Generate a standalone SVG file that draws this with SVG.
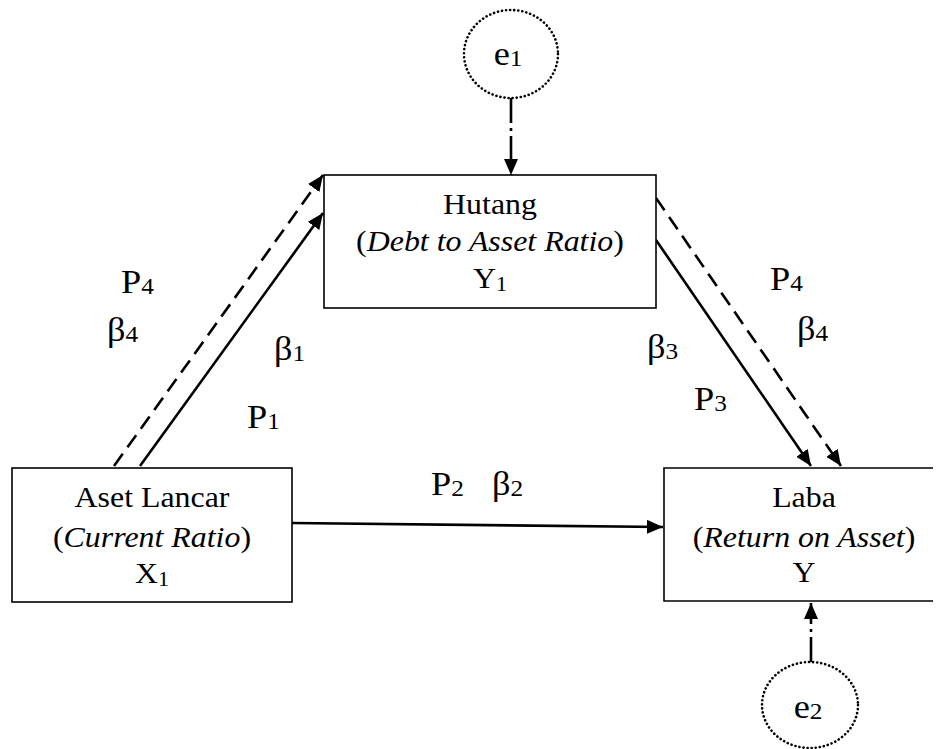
<svg xmlns="http://www.w3.org/2000/svg" width="937" height="749" viewBox="0 0 937 749">
<style>
.t{font-family:'Liberation Serif','Tinos','Times New Roman','DejaVu Serif',serif;fill:#000}
.box{font-size:29px;text-anchor:middle}
.lbl{font-size:33px}
.sub{font-size:20px}
.lsub{font-size:23px}
.it{font-style:italic}
.frame{fill:#fff;stroke:#000;stroke-width:1.6}
.ell{fill:#fff;stroke:#000;stroke-width:2.6;stroke-dasharray:0.1 4;stroke-linecap:round}
.c{stroke:#000;stroke-width:2.6;fill:none}
.dash{stroke-dasharray:15 8}
.dashdot{stroke-dasharray:25 5 3 5}
</style>
<defs>
<marker id="ah" viewBox="0 0 16 14" refX="16" refY="7" markerWidth="16" markerHeight="14" markerUnits="userSpaceOnUse" orient="auto">
<path d="M0,0 L16,7 L0,14 Z" fill="#000"/>
</marker>
</defs>
<rect width="937" height="749" fill="#fff"/>

<g id="connectors">
<line class="c dash" x1="114" y1="466" x2="323" y2="175" marker-end="url(#ah)"/>
<line class="c" x1="140" y1="466" x2="323" y2="213" marker-end="url(#ah)"/>
<line class="c dash" x1="656" y1="198" x2="841" y2="466" marker-end="url(#ah)"/>
<line class="c" x1="656" y1="240" x2="811" y2="466" marker-end="url(#ah)"/>
<line class="c" x1="292" y1="523" x2="663" y2="527" marker-end="url(#ah)"/>
<line class="c dashdot" x1="511" y1="98" x2="511" y2="175" marker-end="url(#ah)"/>
<line class="c dashdot" x1="811" y1="662" x2="811" y2="603" marker-end="url(#ah)"/>
</g>

<g id="e1">
<ellipse class="ell" cx="511" cy="54" rx="47" ry="44"/>
<text class="t lbl" text-anchor="middle" transform="translate(508,65) scale(1.1,1)">e<tspan class="lsub" dy="1">1</tspan></text>
</g>

<g id="hutang">
<rect class="frame" x="324" y="175" width="332" height="133"/>
<g transform="translate(490,0) scale(1.1,1)">
<text class="t box" x="0" y="214">Hutang</text>
<text class="t box" x="0" y="251">(<tspan class="it">Debt to Asset Ratio</tspan>)</text>
<text class="t box" x="0" y="288">Y<tspan class="sub" dy="3">1</tspan></text>
</g>
</g>

<g id="aset-lancar">
<rect class="frame" x="12" y="468" width="280" height="134"/>
<g transform="translate(152,0) scale(1.1,1)">
<text class="t box" x="0" y="507">Aset Lancar</text>
<text class="t box" x="0" y="547">(<tspan class="it">Current Ratio</tspan>)</text>
<text class="t box" x="0" y="583">X<tspan class="sub" dy="3">1</tspan></text>
</g>
</g>

<g id="laba">
<path class="frame" d="M933,468 H664 V601 H933"/>
<g transform="translate(804,0) scale(1.1,1)">
<text class="t box" x="0" y="507">Laba</text>
<text class="t box" x="0" y="547">(<tspan class="it">Return on Asset</tspan>)</text>
<text class="t box" x="0" y="582">Y</text>
</g>
</g>

<g id="e2">
<ellipse class="ell" cx="810" cy="705" rx="48" ry="43"/>
<text class="t lbl" text-anchor="middle" transform="translate(808,718) scale(1.1,1)">e<tspan class="lsub" dy="1">2</tspan></text>
</g>

<g id="labels">
<text class="t lbl" transform="translate(121,293) scale(1.1,1)">P<tspan class="lsub" dy="1">4</tspan></text>
<text class="t lbl" transform="translate(107,341) scale(1.1,1)">β<tspan class="lsub" dy="1">4</tspan></text>
<text class="t lbl" transform="translate(274,360) scale(1.1,1)">β<tspan class="lsub" dy="1">1</tspan></text>
<text class="t lbl" transform="translate(247,428) scale(1.1,1)">P<tspan class="lsub" dy="1">1</tspan></text>
<text class="t lbl" transform="translate(431,495) scale(1.1,1)">P<tspan class="lsub" dy="1">2</tspan></text>
<text class="t lbl" transform="translate(492,495) scale(1.1,1)">β<tspan class="lsub" dy="1">2</tspan></text>
<text class="t lbl" transform="translate(647,358) scale(1.1,1)">β<tspan class="lsub" dy="1">3</tspan></text>
<text class="t lbl" transform="translate(694,410) scale(1.1,1)">P<tspan class="lsub" dy="1">3</tspan></text>
<text class="t lbl" transform="translate(770,290) scale(1.1,1)">P<tspan class="lsub" dy="1">4</tspan></text>
<text class="t lbl" transform="translate(797,340) scale(1.1,1)">β<tspan class="lsub" dy="1">4</tspan></text>
</g>
</svg>
